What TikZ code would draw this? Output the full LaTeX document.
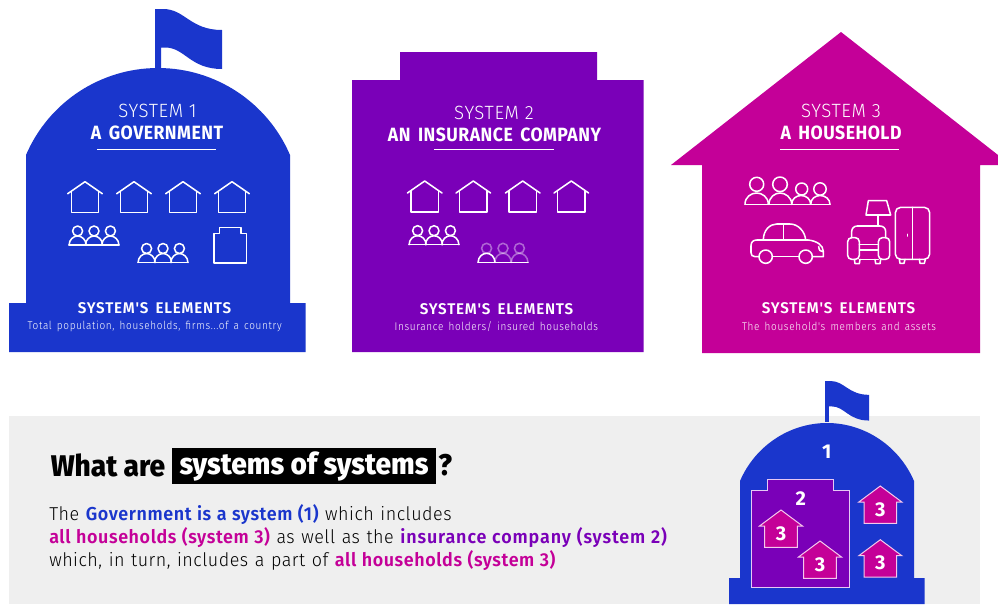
\documentclass[tikz,border=0pt]{standalone}
\usepackage{fontspec}
\setmainfont{Fira Sans}
\newfontfamily\capsL[LetterSpace=3.2,FakeStretch=0.97]{Fira Sans Light}
\newfontfamily\capsB[LetterSpace=2.5,WordSpace=1.6,FakeStretch=0.92]{Fira Sans Bold}
\newfontfamily\elemB[LetterSpace=5,WordSpace=1.6,FakeStretch=0.98]{Fira Sans SemiBold}
\newfontfamily\subT[LetterSpace=6,WordSpace=1.5,FakeStretch=0.89]{Fira Sans Light}
\newfontfamily\headB[FakeStretch=0.94]{Fira Sans ExtraBold}
\newfontfamily\bodyL[LetterSpace=2.7,WordSpace=1.2,FakeStretch=0.96]{Fira Sans Light}
\newfontfamily\bodyB[LetterSpace=3.2,WordSpace=1.1,FakeStretch=0.96]{Fira Sans SemiBold}
\newfontfamily\bodyW[LetterSpace=4.7,WordSpace=1.1,FakeStretch=0.96]{Fira Sans SemiBold}
\definecolor{sysA}{HTML}{1A36CC}
\definecolor{sysB}{HTML}{7A00B8}
\definecolor{sysC}{HTML}{C40098}
\definecolor{panel}{HTML}{EFEFEF}
\definecolor{miniEdgeA}{HTML}{E6C8F5}
\definecolor{miniEdgeB}{HTML}{F5C8EC}
\tikzset{
  icon/.style={draw=white,line width=1.15pt,line join=round,line cap=round},
  faded/.style={draw=white,draw opacity=0.4,line width=1.15pt,line cap=round},
  shapeA/.style={fill=sysA,draw=none},
  shapeB/.style={fill=sysB,draw=none},
  shapeC/.style={fill=sysC,draw=none},
  sysline/.style={text=white,font=\capsL\fontsize{14.4pt}{16pt}\selectfont,inner sep=0pt},
  sysname/.style={text=white,font=\capsB\fontsize{14.4pt}{16pt}\selectfont,inner sep=0pt},
  elemhead/.style={text=white,font=\elemB\fontsize{11.6pt}{13pt}\selectfont,inner sep=0pt},
  elemsub/.style={text=white,font=\subT\fontsize{8.4pt}{10pt}\selectfont,inner sep=0pt},
  rule/.style={draw=white,line width=1.15pt},
  numeral/.style={text=white,font=\bfseries\fontsize{15pt}{17pt}\selectfont,inner sep=0pt},
  headtext/.style={anchor=west,inner sep=0pt,text=black,font=\headB\fontsize{22.4pt}{26pt}\selectfont},
  bodytext/.style={anchor=west,inner sep=0pt,font=\bodyL\fontsize{14pt}{17pt}\selectfont},
  houseicon/.pic={
    \draw[icon] (-17.3,12)--(0,0)--(17.3,12);
    \draw[icon] (-13.7,9.6)--(-13.7,30.8)--(13.7,30.8)--(13.7,9.6);
  },
  person/.pic={
    \draw[icon] (0,-14) circle[radius=5];
    \draw[icon] (-8.5,0) .. controls (-8.5,-5.5) and (-4,-9) .. (0,-9) .. controls (4,-9) and (8.5,-5.5) .. (8.5,0);
  },
  peopleicon/.pic={
    \pic at (-16.4,0) {person};
    \pic at (0,0) {person};
    \pic at (16.4,0) {person};
    \draw[icon] (-25,0)--(25,0);
  },
  flagshape/.pic={
    \fill[sysA] (0,0) -- (8,0) .. controls (30,0) and (35,21) .. (67,21) -- (67,60)
      .. controls (35,60) and (30,38.5) .. (10,38.5) -- (6,38.5) -- (6,62) -- (0,62) -- cycle;
  },
  minihouse/.pic={
    \draw[fill=sysC,draw=miniEdgeB,line width=0.75pt] (0,0) -- (21.5,16) -- (16.3,16) -- (16.3,37.3) -- (-16.3,37.3) -- (-16.3,16) -- (-21.5,16) -- cycle;
    \node[numeral] (-label) at (0,23.5) {3};
  },
}
\begin{document}
\begin{tikzpicture}[x=0.75pt,y=-0.75pt]
\useasboundingbox (0,0) rectangle (998,604);
\fill[white] (0,0) rectangle (998,604);
% ---- system 1
\pic at (155,9) {flagshape};
\fill[shapeA] (26,155) .. controls (48.6,102.2) and (100.6,68) .. (158,68)
  .. controls (215.4,68) and (267.4,102.2) .. (290,155)
  -- (290,303) -- (305.5,303) -- (305.5,352) -- (9,352) -- (9,303) -- (26,303) -- cycle;
\node[sysline] (s1a) at (157.5,110.5) {SYSTEM 1};
\node[sysname] (s1b) at (157,133) {A GOVERNMENT};
\draw[rule] (97,149.6) -- (216,149.6);
\foreach \x in {85,134,183,232}{\pic at (\x,181.7) {houseicon};}
\pic at (94,245) {peopleicon};
\pic at (163,262.5) {peopleicon};
\draw[icon] (214,263) -- (214,233.5) -- (219.3,233.5) -- (219.3,227.7) -- (241,227.7) -- (241,233.5) -- (246.5,233.5) -- (246.5,263) -- cycle;
\node[elemhead] (s1c) at (154.5,308.5) {SYSTEM'S ELEMENTS};
\node[elemsub] (s1d) at (154.7,326) {Total population, households, firms...of a country};
% ---- system 2
\fill[shapeB] (352,80) -- (400,80) -- (400,52) -- (597,52) -- (597,80) -- (643.5,80) -- (643.5,352) -- (352,352) -- cycle;
\node[sysline] (s2a) at (494,112.5) {SYSTEM 2};
\node[sysname] (s2b) at (494.5,134.5) {AN INSURANCE COMPANY};
\draw[rule] (434,149.5) -- (553.5,149.5);
\foreach \x in {424.7,473.3,522.7,571.3}{\pic at (\x,181) {houseicon};}
\pic at (434,244.7) {peopleicon};
\begin{scope}[shift={(503,262.3)}]
  \draw[faded] (-16.4,-14) circle[radius=5] (0,-14) circle[radius=5] (16.4,-14) circle[radius=5];
  \draw[faded] (-8.1,0) .. controls (-8.1,-5.5) and (-4,-9) .. (0,-9) .. controls (4,-9) and (8.1,-5.5) .. (8.1,0);
  \draw[faded] (8.3,0) .. controls (8.3,-5.5) and (12.4,-9) .. (16.4,-9) .. controls (20.4,-9) and (24.9,-5.5) .. (24.9,0);
  \draw[icon] (-24.9,0) .. controls (-24.9,-5.5) and (-20.4,-9) .. (-16.4,-9) .. controls (-12.4,-9) and (-8.1,-5.5) .. (-8.1,0);
  \draw[icon] (-25,0)--(25,0);
\end{scope}
\node[elemhead] (s2c) at (496.5,309.5) {SYSTEM'S ELEMENTS};
\node[elemsub] (s2d) at (496.3,327) {Insurance holders/ insured households};
% ---- system 3
\fill[shapeC] (841,32) -- (998,155) -- (998,165) -- (980,165) -- (980,353) -- (702,353) -- (702,165) -- (671,165) -- cycle;
\node[sysline] (s3a) at (841,111) {SYSTEM 3};
\node[sysname] (s3b) at (841,133) {A HOUSEHOLD};
\draw[rule] (780,149.6) -- (899,149.6);
% people
\draw[icon] (756.7,184.3) circle[radius=7] (780,184.3) circle[radius=7.3] (801.7,189) circle[radius=6] (820,189) circle[radius=6.2];
\draw[icon] (745,204.3) .. controls (745,197) and (751,193) .. (756.7,193) .. controls (762,193) and (768.3,197) .. (768.3,204.3);
\draw[icon] (769,204.3) .. controls (769,197) and (775,193) .. (780,193) .. controls (785,193) and (791.7,197) .. (791.7,204.3);
\draw[icon] (791.7,204.3) .. controls (791.7,199) and (796,195.5) .. (801.2,195.5) .. controls (806,195.5) and (810.7,199) .. (810.7,204.3);
\draw[icon] (810.7,204.3) .. controls (810.7,199) and (815,195.5) .. (820.2,195.5) .. controls (825,195.5) and (830,199) .. (830,204.3);
\draw[icon] (745,204.3) -- (830,204.3);
\begin{scope}[shift={(740,190)},x=0.25pt,y=-0.25pt]
  % car
  \draw[icon] (57,200) -- (45,200) .. controls (37,200) and (33,195) .. (33,188) -- (33,167) .. controls (33,156) and (40,150) .. (50,150) -- (205,150) .. controls (230,153) and (250,165) .. (250,185) -- (250,200) -- (217,200);
  \draw[icon] (97,200) -- (177,200);
  \draw[icon] (77,200) circle[radius=20] (197,200) circle[radius=20];
  \draw[icon] (70,150) .. controls (70,120) and (90,102) .. (110,102) -- (150,102) .. controls (175,102) and (195,125) .. (197,150);
  \draw[icon] (130,102) -- (130,150);
  \draw[icon] (236,170) .. controls (237,180) and (241,185) .. (248,185);
  % lamp
  \draw[icon] (385,32) -- (440,32) -- (452,75) -- (378,75) -- cycle;
  \draw[icon] (414,75) -- (414,108);
  % armchair
  \draw[icon,rounded corners=3pt] (323,143) rectangle (358,208);
  \draw[icon,rounded corners=3pt] (415,143) rectangle (449,208);
  \draw[icon] (335,143) -- (335,125) .. controls (335,115) and (342,108) .. (352,108) -- (420,108) .. controls (430,108) and (437,115) .. (437,125) -- (437,143);
  \draw[icon] (358,163) -- (415,163) (358,180) -- (415,180) (358,208) -- (415,208);
  \draw[icon] (343,208) -- (345,221) -- (358,221) -- (360,208);
  \draw[icon] (405,208) -- (407,221) -- (420,221) -- (422,208);
  % wardrobe
  \draw[icon,rounded corners=4pt] (466,52) rectangle (569,208);
  \draw[icon] (517,52) -- (517,208);
  \draw[icon] (503,133) -- (503,138);
  \draw[icon] (478,208) -- (480,220) -- (492,220) -- (495,208);
  \draw[icon] (538,208) -- (540,220) -- (553,220) -- (556,208);
\end{scope}
\node[elemhead] (s3c) at (838.5,308.5) {SYSTEM'S ELEMENTS};
\node[elemsub] (s3d) at (839,326) {The household's members and assets};
% ---- panel
\fill[panel] (9,416) rectangle (980,604);
\node[headtext] (q1) at (50.5,465) {What are};
\node[fill=black,text=white,anchor=center,minimum width=198pt,minimum height=27pt,inner sep=0pt,font=\headB\fontsize{22.4pt}{26pt}\selectfont] (q2) at (304,466) {systems of systems};
\node[headtext] (q3) at (438,465) {?};
\node[bodytext] (t1) at (49,515) {The {\bodyB\textcolor{sysA}{Government is a system (1)}} which includes};
\node[bodytext] (t2) at (49,538) {{\bodyB\textcolor{sysC}{all households (system 3)}} as well as the {\bodyW\textcolor{sysB}{insurance company (system 2)}}};
\node[bodytext] (t3) at (49,561) {which, in turn, includes a part of {\bodyB\textcolor{sysC}{all households (system 3)}}};
% ---- small diagram
\pic[transform shape,scale=0.659] at (825,381) {flagshape};
\fill[shapeA] (740,481) .. controls (754.9,446.2) and (789.2,423) .. (827,423)
  .. controls (864.8,423) and (899.1,446.2) .. (914,481)
  -- (914,578) -- (924.5,578) -- (924.5,604) -- (729,604) -- (729,578) -- (740,578) -- cycle;
\node[numeral] (n1) at (826.7,451.5) {1};
\draw[fill=sysB,draw=miniEdgeA,line width=0.75pt] (751.3,490) -- (767.3,490) -- (767.3,479.7) -- (833.7,479.7) -- (833.7,490) -- (849,490) -- (849,587) -- (751.3,587) -- cycle;
\node[numeral] (n2) at (800.7,499) {2};
\pic (h1) at (781,510) {minihouse};
\pic (h2) at (820,541) {minihouse};
\pic (h3) at (880.3,486) {minihouse};
\pic (h4) at (880.3,539.7) {minihouse};
\end{tikzpicture}
\end{document}
